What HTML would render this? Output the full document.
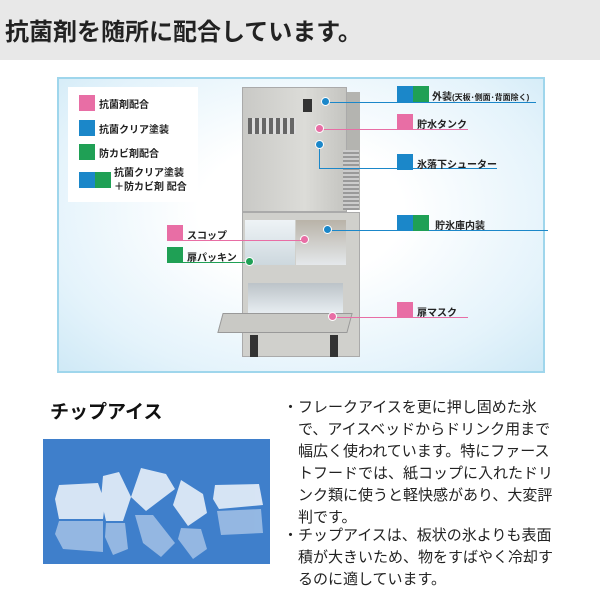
<!DOCTYPE html>
<html><head><meta charset="utf-8"><style>
*{margin:0;padding:0;box-sizing:border-box}
body{width:600px;height:600px;background:#fff;position:relative;overflow:hidden;font-family:"Liberation Sans","Noto Sans CJK JP",sans-serif;color:#222}
.a{position:absolute}
.hdr{left:0;top:0;width:600px;height:60px;background:#e8e8e8}
.hdr span{position:absolute;left:5px;top:12px;font-size:24px;font-weight:bold;color:#222;letter-spacing:0px}
.panel{left:57px;top:77px;width:488px;height:296px;border:2px solid #9fd6ec;background:radial-gradient(ellipse at 50% 45%,#ffffff 30%,#e4f3fb 75%,#cfe9f6 100%)}
.leg{left:68px;top:87px;width:130px;height:115px;background:#fff}
.sq{position:absolute;width:16px;height:16px}
.pk{background:#e86ea5}.bl{background:#1b87c9}.gr{background:#1fa055}
.t{position:absolute;font-size:10px;font-weight:bold;color:#222;white-space:nowrap}
.ln{position:absolute;height:1px}
.dot{position:absolute;width:9px;height:9px;border-radius:50%;border:1.5px solid #fff}
.body{font-size:15px;line-height:22px;color:#222}
</style></head><body>
<div class="a hdr"><span>抗菌剤を随所に配合しています。</span></div>
<div class="a panel"></div>
<div class="a leg"></div>
<div class="sq pk" style="left:79px;top:95px"></div><div class="t" style="left:99px;top:96px">抗菌剤配合</div>
<div class="sq bl" style="left:79px;top:120px"></div><div class="t" style="left:99px;top:121px">抗菌クリア塗装</div>
<div class="sq gr" style="left:79px;top:144px"></div><div class="t" style="left:99px;top:145px">防カビ剤配合</div>
<div class="sq bl" style="left:79px;top:172px"></div><div class="sq gr" style="left:95px;top:172px"></div>
<div class="t" style="left:114px;top:167px;line-height:14px">抗菌クリア塗装<br>＋防カビ剤 配合</div>
<!-- machine -->
<div class="a" style="left:242px;top:87px;width:105px;height:125px;background:linear-gradient(90deg,#c9c9c6,#dcdcd8 60%,#c4c4c0);border:1px solid #aaa"></div>
<div class="a" style="left:347px;top:92px;width:13px;height:118px;background:#b4b4b0"></div>
<div class="a" style="left:343px;top:150px;width:16px;height:60px;background:repeating-linear-gradient(0deg,#999 0 2px,#ccc 2px 4px)"></div>
<div class="a" style="left:248px;top:118px;width:48px;height:16px;background:repeating-linear-gradient(90deg,#666 0 4px,#ddd 4px 7px)"></div>
<div class="a" style="left:303px;top:99px;width:9px;height:13px;background:#333"></div>
<div class="a" style="left:242px;top:212px;width:118px;height:145px;background:#d0d0cc;border:1px solid #aaa"></div>
<div class="a" style="left:245px;top:220px;width:50px;height:45px;background:linear-gradient(#eef3f6,#cdd8de)"></div>
<div class="a" style="left:296px;top:220px;width:50px;height:45px;background:linear-gradient(#b9b3a8,#e4e8eb)"></div>
<div class="a" style="left:248px;top:283px;width:95px;height:35px;background:linear-gradient(#bcc3c8,#eef4f8)"></div>
<div class="a" style="left:220px;top:313px;width:130px;height:20px;background:#c9c9c5;transform:skewX(-15deg);border:1px solid #999"></div>
<div class="a" style="left:250px;top:335px;width:8px;height:22px;background:#333"></div>
<div class="a" style="left:330px;top:335px;width:8px;height:22px;background:#333"></div>
<!-- callouts -->
<div class="ln" style="left:326px;top:102px;width:210px;background:#1b87c9"></div><div class="dot bl" style="left:321px;top:97px"></div>
<div class="sq bl" style="left:397px;top:86px"></div><div class="sq gr" style="left:413px;top:86px"></div><div class="t" style="left:432px;top:88px">外装<span style="font-size:8px">(天板･側面･背面除く)</span></div>
<div class="ln" style="left:320px;top:129px;width:148px;background:#e86ea5"></div><div class="dot pk" style="left:315px;top:124px"></div>
<div class="sq pk" style="left:397px;top:114px"></div><div class="t" style="left:417px;top:116px">貯水タンク</div>
<div class="ln" style="left:319px;top:145px;width:1px;height:24px;background:#1b87c9"></div><div class="dot bl" style="left:315px;top:140px"></div>
<div class="ln" style="left:319px;top:168px;width:178px;background:#1b87c9"></div>
<div class="sq bl" style="left:397px;top:154px"></div><div class="t" style="left:417px;top:156px">氷落下シューター</div>
<div class="ln" style="left:328px;top:230px;width:220px;background:#1b87c9"></div><div class="dot bl" style="left:323px;top:225px"></div>
<div class="sq bl" style="left:397px;top:215px"></div><div class="sq gr" style="left:413px;top:215px"></div><div class="t" style="left:435px;top:217px">貯氷庫内装</div>
<div class="ln" style="left:167px;top:240px;width:100px;background:#e86ea5"></div><div class="dot pk" style="left:300px;top:235px"></div>
<div class="ln" style="left:240px;top:240px;width:62px;background:#e86ea5"></div>
<div class="sq pk" style="left:167px;top:225px"></div><div class="t" style="left:187px;top:227px">スコップ</div>
<div class="ln" style="left:167px;top:262px;width:83px;background:#1fa055"></div><div class="dot gr" style="left:245px;top:257px"></div>
<div class="sq gr" style="left:167px;top:247px"></div><div class="t" style="left:187px;top:249px">扉パッキン</div>
<div class="ln" style="left:333px;top:317px;width:135px;background:#e86ea5"></div><div class="dot pk" style="left:328px;top:312px"></div>
<div class="sq pk" style="left:397px;top:302px"></div><div class="t" style="left:417px;top:304px">扉マスク</div>
<!-- bottom -->
<div class="a" style="left:50px;top:397px;font-size:19px;font-weight:bold;color:#111">チップアイス</div>
<svg class="a" style="left:43px;top:439px" width="227" height="125" viewBox="0 0 227 125">
<rect width="227" height="125" fill="#3f7fcb"/>
<g fill="#dfeaf7" opacity="0.95">
<polygon points="16,46 55,44 62,64 60,80 16,80 12,60"/>
<polygon points="60,37 76,33 88,58 80,82 63,82 58,60"/>
<polygon points="98,29 123,35 132,50 103,72 88,58"/>
<polygon points="138,41 160,55 164,74 145,87 130,66"/>
<polygon points="172,46 216,45 220,66 176,70 170,60"/>
</g>
<g fill="#b9d0ec" opacity="0.7">
<polygon points="16,82 60,82 60,113 20,110 12,95"/>
<polygon points="63,84 82,84 85,110 70,116 62,98"/>
<polygon points="92,76 110,76 132,104 118,118 100,104"/>
<polygon points="138,89 158,90 164,110 150,120 135,100"/>
<polygon points="174,72 218,70 220,94 178,96"/>
</g>
</svg>
<div class="a body" style="left:283px;top:397px">・</div>
<div class="a body" style="left:298px;top:397px;white-space:nowrap">フレークアイスを更に押し固めた氷<br>で、アイスベッドからドリンク用まで<br>幅広く使われています。特にファース<br>トフードでは、紙コップに入れたドリ<br>ンク類に使うと軽快感があり、大変評<br>判です。</div>
<div class="a body" style="left:283px;top:525px">・</div>
<div class="a body" style="left:298px;top:525px;white-space:nowrap">チップアイスは、板状の氷よりも表面<br>積が大きいため、物をすばやく冷却す<br>るのに適しています。</div>
</body></html>
